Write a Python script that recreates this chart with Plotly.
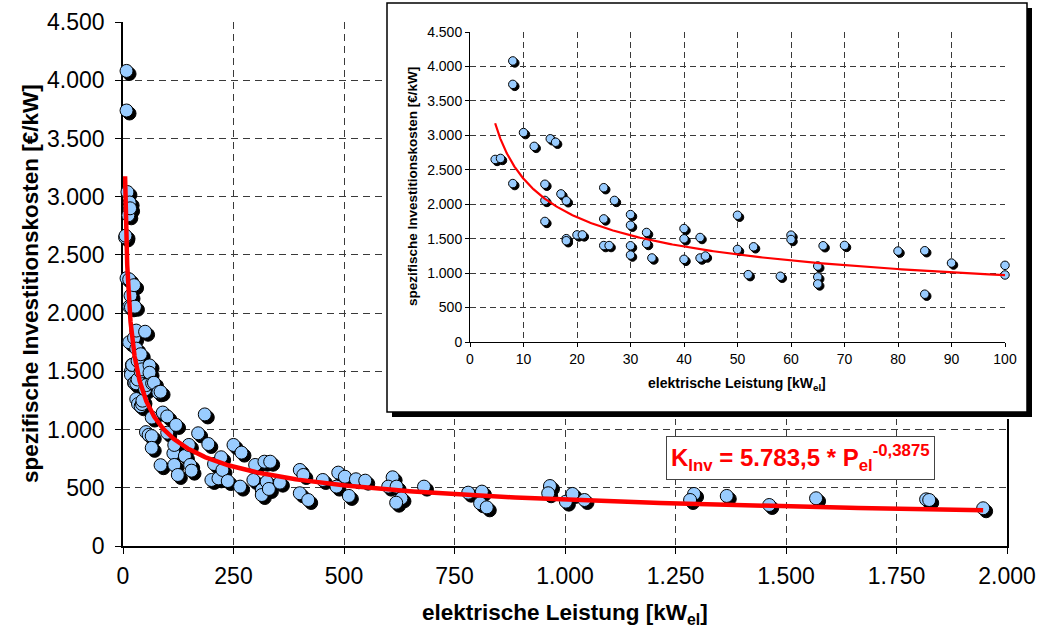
import numpy as np
import plotly.graph_objects as go

W, H = 1042, 639

# ---------------- data ----------------
# plants up to 100 kW_el (shown in both charts)
small_power = [4.7, 5.7, 8, 8, 8, 10, 12, 15, 16, 14, 14, 14, 17, 18, 18, 18, 20, 21,
               25, 25, 25, 26, 27, 30, 30, 30, 30, 33, 33, 34, 40, 40, 40, 43, 43, 44,
               50, 50, 52, 53, 58, 60, 60, 65, 65, 65, 66, 70, 80, 85, 85, 90, 100, 100]
small_cost = [2650, 2665, 4080, 3740, 2300, 3040, 2840, 2950, 2900, 2290, 2055, 1750, 2150,
              2050, 1500, 1470, 1555, 1555, 2240, 1787, 1400, 1400, 2055, 1850, 1695, 1397,
              1262, 1590, 1430, 1220, 1647, 1498, 1200, 1517, 1219, 1248, 1840, 1344, 978,
              1382, 954, 1551, 1488, 1103, 944, 843, 1397, 1402, 1320, 1325, 694, 1146,
              1113, 973]
# plants above 100 kW_el (main chart only)
large_power = [114, 116, 116, 120, 124, 140, 149, 152, 155, 170, 185, 193, 200, 206, 216,
               222, 225, 237, 250, 265, 268, 295, 299, 314, 314, 320, 325, 330, 333, 355,
               400, 408, 400, 419, 452, 487, 502, 483, 511, 527, 548, 610, 600, 619, 630,
               618, 681, 781, 812, 808, 823, 966, 962, 1002, 1017, 1044, 1292, 1283, 1366,
               1462, 1568, 1817, 1824, 1946]
large_cost = [796, 868, 696, 1040, 610, 773, 868, 696, 647, 968, 1130, 876, 567, 704, 581,
              762, 653, 558, 868, 510, 802, 567, 696, 481, 438, 724, 552, 490, 724, 544,
              653, 610, 453, 395, 567, 630, 595, 510, 430, 573, 561, 590, 510, 510, 410,
              372, 510, 458, 467, 367, 332, 515, 453, 381, 447, 395, 447, 395, 430, 352,
              410, 401, 395, 324]

all_power = small_power + large_power
all_cost = small_cost + large_cost

# trendline  K_Inv = 5783.5 * P_el^-0.3875
fit_a = 5783.5
fit_b = -0.3875

main_x_ticks = [0, 250, 500, 750, 1000, 1250, 1500, 1750, 2000]
cost_ticks = [0, 500, 1000, 1500, 2000, 2500, 3000, 3500, 4000, 4500]
inset_x_ticks = [0, 10, 20, 30, 40, 50, 60, 70, 80, 90, 100]

y_title = "spezifische Investitionskosten [€/kW]"
x_title = "elektrische Leistung [kW<sub>el</sub>]"
formula = "K<sub>Inv</sub> = 5.783,5 * P<sub>el</sub><sup>-0,3875</sup>"

# ---------------- geometry (pixels) ----------------
MAIN = dict(l=123, r=1007, t=22, b=546)
INSET = dict(l=470, r=1005, t=32, b=342)
BOX = dict(l=387, r=1027, t=3, b=412)
BOX_SHADOW = 5
MAIN_SHADOW = 3
INSET_SHADOW = 2

FONT = "Liberation Sans, Arial, sans-serif"
BLUE = "#99CCFF"
RED = "#FF0000"
GRID = "#3a3a3a"


def dx(g):
    return [g["l"] / W, g["r"] / W]


def dy(g):
    return [1 - g["b"] / H, 1 - g["t"] / H]


def shift_x(rng, g, px):
    span = rng[1] - rng[0]
    d = px * span / (g["r"] - g["l"])
    return [rng[0] - d, rng[1] - d]


def shift_y(rng, g, px):
    span = rng[1] - rng[0]
    d = px * span / (g["b"] - g["t"])
    return [rng[0] + d, rng[1] + d]


main_xr = [0, 2000]
main_yr = [0, 4500]
inset_xr = [0, 100]
inset_yr = [0, 4500]

fit_x_main = np.geomspace(min(all_power), max(all_power), 500)
fit_y_main = fit_a * fit_x_main ** fit_b
fit_x_inset = np.geomspace(min(small_power), 100, 300)
fit_y_inset = fit_a * fit_x_inset ** fit_b

fig = go.Figure()

# main base (grid, axes)
fig.add_trace(go.Scatter(x=[], y=[], xaxis="x", yaxis="y", showlegend=False, hoverinfo="skip"))
# main shadows
fig.add_trace(go.Scatter(x=all_power, y=all_cost, mode="markers", xaxis="x2", yaxis="y2",
                         marker=dict(size=13, color="black", line=dict(width=1, color="black")),
                         cliponaxis=False, showlegend=False, hoverinfo="skip"))
# main markers
fig.add_trace(go.Scatter(x=all_power, y=all_cost, mode="markers", xaxis="x3", yaxis="y3",
                         marker=dict(size=13, color=BLUE, line=dict(width=1, color="black")),
                         cliponaxis=False, showlegend=False, name="Anlagen"))
fig.add_trace(go.Scatter(x=fit_x_main, y=fit_y_main, mode="lines", xaxis="x3", yaxis="y3",
                         line=dict(color=RED, width=4.5), showlegend=False, name="Trend"))

# inset box subplot
fig.add_trace(go.Scatter(x=[], y=[], xaxis="x4", yaxis="y4", showlegend=False, hoverinfo="skip"))
# inset base
fig.add_trace(go.Scatter(x=[], y=[], xaxis="x5", yaxis="y5", showlegend=False, hoverinfo="skip"))
fig.add_trace(go.Scatter(x=small_power, y=small_cost, mode="markers", xaxis="x6", yaxis="y6",
                         marker=dict(size=8.5, color="black", line=dict(width=1, color="black")),
                         cliponaxis=False, showlegend=False, hoverinfo="skip"))
fig.add_trace(go.Scatter(x=small_power, y=small_cost, mode="markers", xaxis="x7", yaxis="y7",
                         marker=dict(size=8.5, color=BLUE, line=dict(width=1, color="black")),
                         cliponaxis=False, showlegend=False, name="Anlagen"))
fig.add_trace(go.Scatter(x=fit_x_inset, y=fit_y_inset, mode="lines", xaxis="x7", yaxis="y7",
                         line=dict(color=RED, width=2.2), showlegend=False, name="Trend"))

main_grid = dict(showgrid=True, gridcolor=GRID, gridwidth=1, griddash="7px,5px",
                 zeroline=False, automargin=False)
inset_grid = dict(showgrid=True, gridcolor=GRID, gridwidth=1, griddash="6px,4px",
                  zeroline=False, automargin=False)
hidden = dict(visible=False, showgrid=False, zeroline=False, fixedrange=True, automargin=False)

box_pad = 2
BOXDOM = dict(l=BOX["l"] - box_pad, r=BOX["r"] + BOX_SHADOW + box_pad,
              t=BOX["t"] - box_pad, b=BOX["b"] + BOX_SHADOW + box_pad)

fig.update_layout(
    width=W, height=H, autosize=False,
    margin=dict(l=0, r=0, t=0, b=0, pad=0, autoexpand=False),
    paper_bgcolor="white", plot_bgcolor="white",
    separators=",.",
    font=dict(family=FONT, color="black"),
    xaxis=dict(domain=dx(MAIN), range=main_xr, tickvals=main_x_ticks, anchor="y",
               showline=True, linecolor="black", linewidth=1.5, ticks="outside", ticklen=6,
               tickcolor="black", tickwidth=1, separatethousands=True, ticklabelstandoff=3,
               tickfont=dict(size=23), layer="below traces", **main_grid),
    yaxis=dict(domain=dy(MAIN), range=main_yr, tickvals=cost_ticks, anchor="x",
               showline=True, linecolor="black", linewidth=1.5, mirror=True,
               ticks="outside", ticklen=6, tickcolor="black", tickwidth=1, ticklabelstandoff=6,
               separatethousands=True, tickfont=dict(size=23), layer="below traces", **main_grid),
    xaxis2=dict(overlaying="x", range=shift_x(main_xr, MAIN, MAIN_SHADOW), anchor="y2", **hidden),
    yaxis2=dict(overlaying="y", range=shift_y(main_yr, MAIN, MAIN_SHADOW), anchor="x2", **hidden),
    xaxis3=dict(overlaying="x", range=main_xr, anchor="y3", **hidden),
    yaxis3=dict(overlaying="y", range=main_yr, anchor="x3", **hidden),
    xaxis4=dict(domain=dx(BOXDOM), range=[BOXDOM["l"], BOXDOM["r"]], anchor="y4", **hidden),
    yaxis4=dict(domain=dy(BOXDOM), range=[BOXDOM["b"], BOXDOM["t"]], anchor="x4", **hidden),
    xaxis5=dict(domain=dx(INSET), range=inset_xr, tickvals=inset_x_ticks, anchor="y5",
                showline=True, linecolor="black", linewidth=1, ticks="outside", ticklen=4,
                tickcolor="black", tickfont=dict(size=14), layer="below traces", **inset_grid),
    yaxis5=dict(domain=dy(INSET), range=inset_yr, tickvals=cost_ticks, anchor="x5",
                showline=True, linecolor="black", linewidth=1, ticks="outside", ticklen=4,
                tickcolor="black", separatethousands=True, tickfont=dict(size=14),
                layer="below traces", **inset_grid),
    xaxis6=dict(overlaying="x5", range=shift_x(inset_xr, INSET, INSET_SHADOW), anchor="y6", **hidden),
    yaxis6=dict(overlaying="y5", range=shift_y(inset_yr, INSET, INSET_SHADOW), anchor="x6", **hidden),
    xaxis7=dict(overlaying="x5", range=inset_xr, anchor="y7", **hidden),
    yaxis7=dict(overlaying="y5", range=inset_yr, anchor="x7", **hidden),
    shapes=[
        dict(type="rect", xref="x4", yref="y4", layer="below",
             x0=BOX["l"] + BOX_SHADOW, x1=BOX["r"] + BOX_SHADOW,
             y0=BOX["t"] + BOX_SHADOW, y1=BOX["b"] + BOX_SHADOW,
             fillcolor="black", line=dict(width=0)),
        dict(type="rect", xref="x4", yref="y4", layer="below",
             x0=BOX["l"], x1=BOX["r"], y0=BOX["t"], y1=BOX["b"],
             fillcolor="white", line=dict(width=1.5, color="black")),
    ],
    annotations=[
        dict(text=y_title, xref="paper", yref="paper", x=30 / W, y=1 - 284 / H,
             textangle=-90, showarrow=False, xanchor="center", yanchor="middle",
             font=dict(size=22.5, weight="bold")),
        dict(text=x_title, xref="paper", yref="paper", x=565 / W, y=1 - 614 / H,
             showarrow=False, xanchor="center", yanchor="middle",
             font=dict(size=22.5, weight="bold")),
        dict(text=y_title, xref="paper", yref="paper", x=412 / W, y=1 - 187 / H,
             textangle=-90, showarrow=False, xanchor="center", yanchor="middle",
             font=dict(size=13.5, weight="bold")),
        dict(text=x_title, xref="paper", yref="paper", x=737 / W, y=1 - 384 / H,
             showarrow=False, xanchor="center", yanchor="middle",
             font=dict(size=14, weight="bold")),
        dict(text=formula, xref="paper", yref="paper", x=800 / W, y=1 - 458 / H,
             showarrow=False, xanchor="center", yanchor="middle",
             bgcolor="white", bordercolor="#444444", borderwidth=1, borderpad=4,
             font=dict(size=24, weight="bold", color=RED)),
    ],
)

fig.write_html("out.html", config={"displayModeBar": False},
               post_script="document.body.style.margin='0';")
